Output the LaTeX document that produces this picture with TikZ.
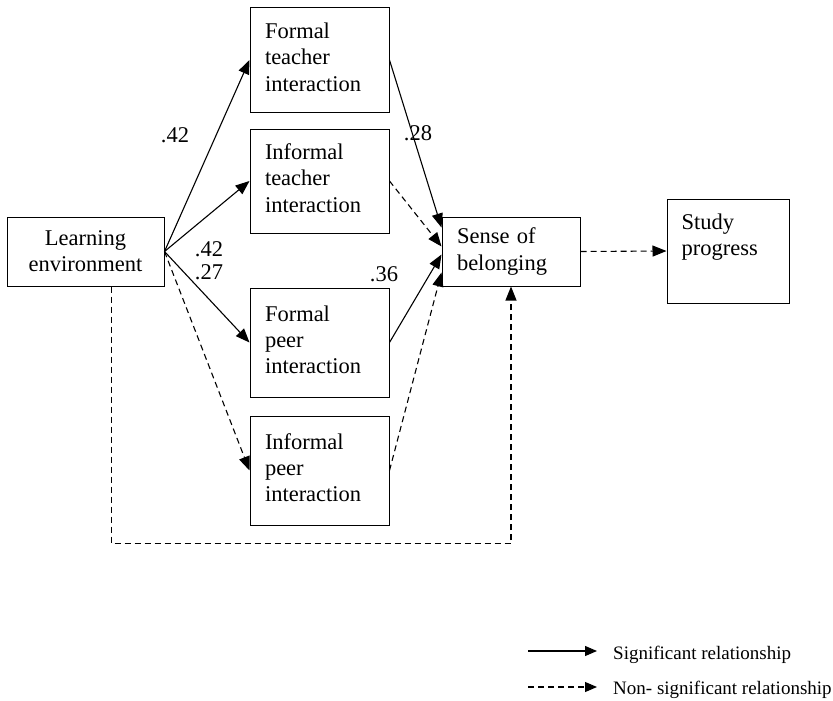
\documentclass[tikz,border=0pt]{standalone}
\usepackage{fontspec}
\setmainfont{Liberation Serif}
\usetikzlibrary{arrows.meta,calc}
\begin{document}
\begin{tikzpicture}[x=1pt,y=-1pt,
  box/.style={draw,line width=1pt,inner xsep=15pt,inner ysep=0pt,align=left,font=\fontsize{22.5}{26.3}\selectfont},
  ibox/.style={box,text width=109pt,execute at end node={\rule[-6pt]{0pt}{6pt}}},
  sig/.style={line width=1.1pt,-{Triangle[length=14pt,width=11pt]}},
  nsig/.style={sig,dash pattern=on 6pt off 4pt},
  lsig/.style={line width=1.1pt,-{Triangle[length=12pt,width=10pt]}},
  lnsig/.style={lsig,dash pattern=on 6pt off 4pt},
  lbl/.style={font=\fontsize{22.5}{26}\selectfont,inner sep=0pt},
  leg/.style={font=\fontsize{19}{22}\selectfont,inner sep=0pt,anchor=base west},
]
\useasboundingbox (0,0) rectangle (833,701);
% boxes
\node[box,align=center,text width=127pt,minimum height=69pt] (LE) at (85.5,251.5) {Learning\\environment};
\node[ibox,minimum height=104pt] (FTI) at (319.5,60) {Formal\\teacher\\interaction};
\node[ibox,minimum height=104pt] (ITI) at (319.5,181) {Informal\\teacher\\interaction};
\node[ibox,minimum height=109pt] (FPI) at (319.5,342.5) {Formal\\peer\\interaction};
\node[ibox,minimum height=109pt] (IPI) at (319.5,470.5) {Informal\\peer\\interaction};
\node[box,text width=108pt,minimum height=69pt] (SoB) at (511,251.5) {Sense of\\belonging};
\node[box,minimum width=122pt,minimum height=104pt] (SP) at (728,251) {};
\node[anchor=north west,inner sep=0pt,align=left,font=\fontsize{22.5}{26.3}\selectfont] (SPt) at ($(SP.north west)+(15,15)$) {Study\\progress};
% connectors
\draw[sig] (LE.east) -- (FTI.west);
\draw[sig] (LE.east) -- (ITI.west);
\draw[sig] (LE.east) -- (FPI.west);
\draw[nsig] (LE.east) -- (IPI.west);
\draw[sig] (FTI.east) -- ($(SoB.north west)+(0,11)$);
\draw[nsig] (ITI.east) -- ($(SoB.north west)+(0,30)$);
\draw[sig] (FPI.east) -- ($(SoB.north west)+(0,38)$);
\draw[nsig] (IPI.east) -- ($(SoB.north west)+(0,56)$);
\draw[nsig] (SoB.east) -- (SP.west);
\draw[nsig] ($(LE.south)+(26,0)$) |- ($(SoB.south)+(0,257)$) -- (SoB.south);
% coefficient labels
\node[lbl] (c1) at (175,135) {.42};
\node[lbl] (c2) at (209,249) {.42};
\node[lbl] (c3) at (209,272.5) {.27};
\node[lbl] (c4) at (384,274) {.36};
\node[lbl] (c5) at (418,133.5) {.28};
% legend
\coordinate (s1) at (528,651);
\coordinate (s2) at (597,651);
\coordinate (n1) at (528,687);
\coordinate (n2) at (597,687);
\draw[lsig] (s1) -- (s2);
\draw[lnsig] (n1) -- (n2);
\node[leg] (t1) at (613,659) {Significant relationship};
\node[leg] (t2) at (613,694) {Non- significant relationship};
\end{tikzpicture}
\end{document}
